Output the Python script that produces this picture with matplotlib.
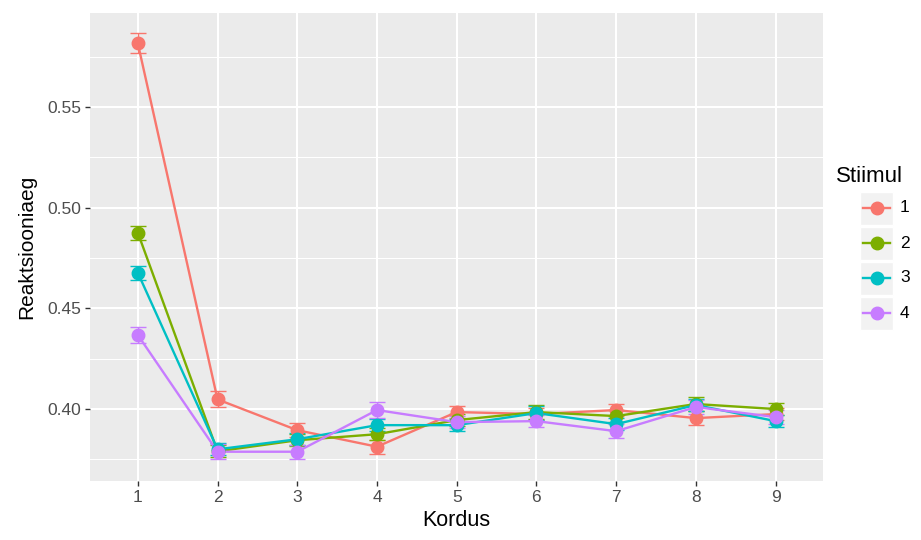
import matplotlib.pyplot as plt
from matplotlib.patches import Rectangle
from matplotlib.lines import Line2D

plt.rcParams['font.family'] = ['Liberation Sans', 'DejaVu Sans']

kordus = [1, 2, 3, 4, 5, 6, 7, 8, 9]
stiimul = ["1", "2", "3", "4"]
colors = ["#F8766D", "#7CAE00", "#00BFC4", "#C77CFF"]

# mean reaction time per repetition, one list per stimulus
rt_1 = [0.5817, 0.4048, 0.3895, 0.3813, 0.3985, 0.3975, 0.3995, 0.3955, 0.3975]
rt_2 = [0.4876, 0.3790, 0.3845, 0.3875, 0.3945, 0.3985, 0.3965, 0.4025, 0.4000]
rt_3 = [0.4677, 0.3800, 0.3850, 0.3920, 0.3920, 0.3980, 0.3925, 0.4020, 0.3940]
rt_4 = [0.4368, 0.3788, 0.3788, 0.3995, 0.3935, 0.3940, 0.3890, 0.4010, 0.3960]

# standard errors
se_1 = [0.0050, 0.0040, 0.0035, 0.0035, 0.0030, 0.0030, 0.0030, 0.0035, 0.0030]
se_2 = [0.0035, 0.0030, 0.0030, 0.0030, 0.0030, 0.0035, 0.0030, 0.0035, 0.0030]
se_3 = [0.0035, 0.0030, 0.0030, 0.0030, 0.0030, 0.0035, 0.0030, 0.0030, 0.0030]
se_4 = [0.0040, 0.0038, 0.0035, 0.0040, 0.0030, 0.0030, 0.0035, 0.0035, 0.0035]

means = [rt_1, rt_2, rt_3, rt_4]
ses = [se_1, se_2, se_3, se_4]

fig = plt.figure(figsize=(9.21, 5.4), dpi=100)
ax = fig.add_axes([0.0977, 0.1098, 0.7963, 0.8667])
ax.set_facecolor("#EBEBEB")

for m, s, c in zip(means, ses, colors):
    ax.errorbar(kordus, m, yerr=s, fmt="none", ecolor=c, elinewidth=1.0,
                capsize=5.8, capthick=1.0, zorder=2)
for m, c in zip(means, colors):
    ax.plot(kordus, m, color=c, lw=1.7, zorder=3)
for m, c in zip(means, colors):
    ax.plot(kordus, m, "o", color=c, ms=9, zorder=4)

ax.set_xlim(0.4, 9.6)
ax.set_ylim(0.3644, 0.5969)
ax.set_xticks(kordus)
ax.set_yticks([0.40, 0.45, 0.50, 0.55])
ax.set_yticklabels(["0.40", "0.45", "0.50", "0.55"])
ax.set_yticks([0.375, 0.425, 0.475, 0.525, 0.575], minor=True)
ax.grid(True, which="major", color="white", lw=1.5)
ax.grid(True, which="minor", axis="y", color="white", lw=0.75)
ax.set_axisbelow(True)
for sp in ax.spines.values():
    sp.set_visible(False)
ax.tick_params(which="major", length=3.5, width=1, color="#333333",
               labelcolor="#4D4D4D", labelsize=12.5, pad=3)
ax.tick_params(which="minor", length=0)
ax.set_xlabel("Kordus", fontsize=15.5, labelpad=4)
ax.set_ylabel("Reaktsiooniaeg", fontsize=15, labelpad=8)

# legend drawn in figure pixel coordinates
fig.text(836 / 921, 1 - 176 / 540, "Stiimul", fontsize=16, va="center", ha="left")
key_y = [208, 243, 278, 313]
for lab, c, yk in zip(stiimul, colors, key_y):
    x0, w, h = 860, 33, 33
    fig.patches.append(Rectangle((x0 / 921, 1 - (yk + h / 2) / 540), w / 921, h / 540,
                                 transform=fig.transFigure, facecolor="#F2F2F2",
                                 edgecolor="white", lw=1))
    fig.lines.append(Line2D([(x0 + 3) / 921, (x0 + w - 3) / 921], [1 - yk / 540] * 2,
                            transform=fig.transFigure, color=c, lw=1.7))
    fig.lines.append(Line2D([(x0 + w / 2) / 921], [1 - yk / 540], marker="o",
                            transform=fig.transFigure, color=c, ms=9))
    fig.text(900 / 921, 1 - yk / 540, lab, fontsize=12.5, va="center", ha="left")

fig.savefig("out.png", dpi=100)
